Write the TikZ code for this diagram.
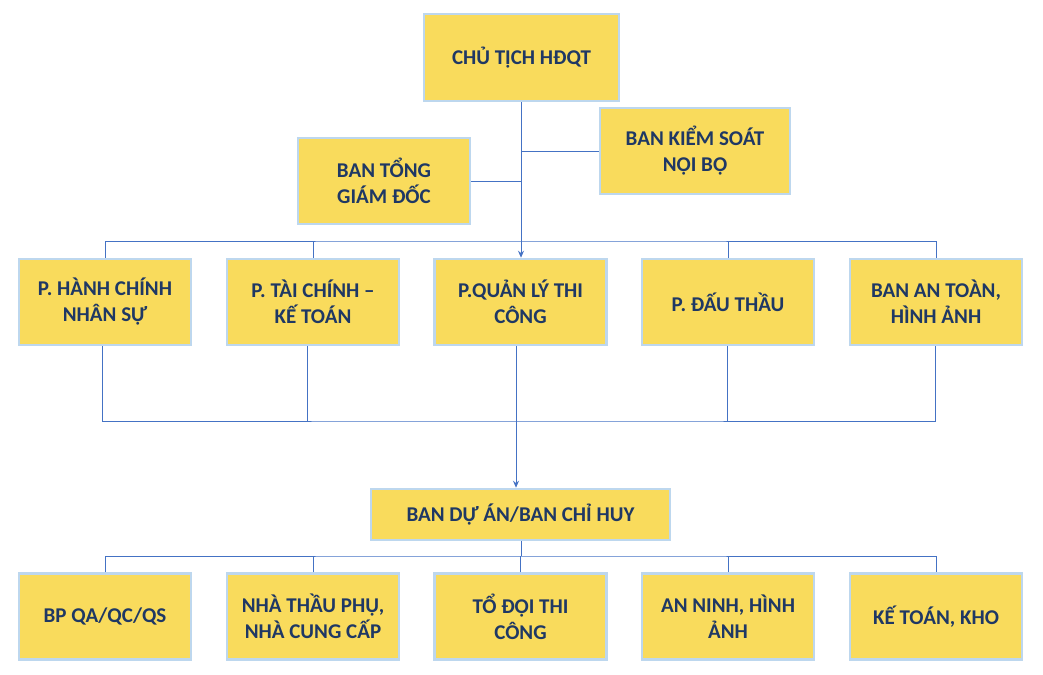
\documentclass[tikz,border=0pt]{standalone}
\usepackage{fontspec}
\setmainfont{Carlito}
\usetikzlibrary{positioning,arrows.meta}
\definecolor{boxfill}{HTML}{F9DB5C}
\definecolor{glow}{HTML}{BDD7EE}
\definecolor{txt}{HTML}{1F3864}
\definecolor{linecol}{HTML}{4472C4}
\tikzset{
    unit/.style={draw=glow, line width=2.5pt, fill=boxfill, text=txt, align=center,
        font=\fontsize{21}{26}\selectfont\bfseries, inner sep=0pt},
    link/.style={draw=linecol, line width=1pt},
    linkarrow/.style={link, -{Stealth[length=7pt,width=6pt]}}
}
\begin{document}
\begin{tikzpicture}[x=1pt,y=-1pt]
    \useasboundingbox (0,0) rectangle (1043,674);
    % top levels
    \node[unit, minimum width=195pt, minimum height=87pt] (chair) at (521.5,57.5) {CHỦ TỊCH HĐQT};
    \node[unit, minimum width=190pt, minimum height=86pt] (audit) at (695,151) {BAN KIỂM SOÁT\\NỘI BỘ};
    \node[unit, minimum width=172pt, minimum height=86pt] (ceo) at (384,181) {BAN TỔNG\\GIÁM ĐỐC};
    % departments
    \foreach \name/\x/\label in {hr/105/{P. HÀNH CHÍNH\\NHÂN SỰ}, fin/313/{P. TÀI CHÍNH –\\KẾ TOÁN}, con/520.5/{P.QUẢN LÝ THI\\CÔNG}, bid/728/{P. ĐẤU THẦU}, safe/936/{BAN AN TOÀN,\\HÌNH ẢNH}} {
        \node[unit, minimum width=172pt, minimum height=86pt] (\name) at (\x,302) {\label};
    }
    \node[unit, minimum width=299pt, minimum height=51pt] (proj) at (520.5,514.5) {BAN DỰ ÁN/BAN CHỈ HUY};
    % site teams
    \foreach \name/\x/\label in {qa/105/{BP QA/QC/QS}, sub/313/{NHÀ THẦU PHỤ,\\NHÀ CUNG CẤP}, team/520.5/{TỔ ĐỘI THI\\CÔNG}, sec/728/{AN NINH, HÌNH\\ẢNH}, acc/936/{KẾ TOÁN, KHO}} {
        \node[unit, minimum width=172pt, minimum height=86pt] (\name) at (\x,616.5) {\label};
    }
    % connectors
    \coordinate (bus1) at (521,241);
    \draw[linkarrow] (chair.south -| bus1) -- (con.north -| bus1);
    \draw[link] (audit.west) -- (audit.west -| bus1);
    \draw[link] (ceo.east) -- (ceo.east -| bus1);
    \draw[link] (hr.north) |- (bus1) -| (safe.north);
    \foreach \n in {fin, bid} \draw[link] (\n.north) -- (\n.north |- bus1);
    \coordinate (bus2) at (516,421);
    \draw[link] (hr.south -| 102,0) |- (bus2) -| (safe.south -| 935,0);
    \foreach \n/\x in {fin/307, con/516, bid/727} \draw[link] (\n.south -| \x,0) -- (\x,421);
    \draw[linkarrow] (bus2) -- (proj.north -| bus2);
    \coordinate (bus3) at (521,556);
    \draw[link] (proj.south -| bus3) -- (bus3);
    \draw[link] (qa.north) |- (bus3) -| (acc.north);
    \foreach \n in {sub, team, sec} \draw[link] (\n.north) -- (\n.north |- bus3);
\end{tikzpicture}
\end{document}
